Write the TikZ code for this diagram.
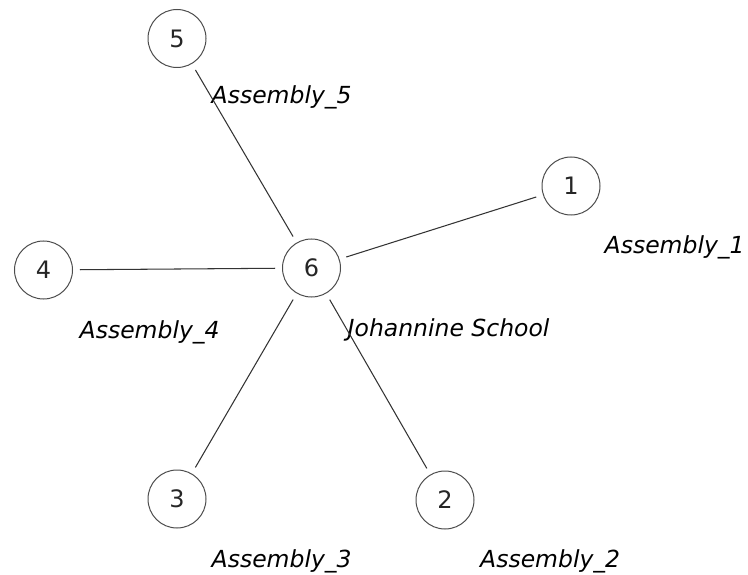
\documentclass[tikz,border=0pt]{standalone}
\usepackage{fontspec}
\setmainfont{DejaVu Sans}
\begin{document}
\begin{tikzpicture}[x=1pt,y=-1pt,
  vert/.style={circle,draw=black!70,line width=1pt,minimum size=58pt,inner sep=0pt,font=\fontsize{24}{28}\selectfont,text=black!85},
  lab/.style={anchor=base west,inner sep=0pt,font=\fontsize{23.5}{28}\selectfont\itshape},
  edge/.style={draw=black!80,line width=1.05pt,shorten <=7pt,shorten >=7pt}]
\useasboundingbox (0,0) rectangle (748,575);
\node[vert] (n5) at (177,38.5) {5};
\node[vert] (n1) at (571,186) {1};
\node[vert] (n4) at (43.5,270) {4};
\node[vert] (n6) at (311.5,268) {6};
\node[vert] (n3) at (177,499) {3};
\node[vert] (n2) at (445,500) {2};
\node[lab] (l5) at (211.5,104) {Assembly\_5};
\node[lab] (l1) at (604.5,254) {Assembly\_1};
\node[lab] (l4) at (79.5,338) {Assembly\_4};
\node[lab] (l6) at (347.5,337) {Johannine School};
\node[lab] (l3) at (211.5,567) {Assembly\_3};
\node[lab] (l2) at (480,567) {Assembly\_2};
\draw[edge] (n6) -- (n5);
\draw[edge] (n6) -- (n1);
\draw[edge] (n6) -- (n4);
\draw[edge] (n6) -- (n3);
\draw[edge] (n6) -- (n2);
\end{tikzpicture}
\end{document}
